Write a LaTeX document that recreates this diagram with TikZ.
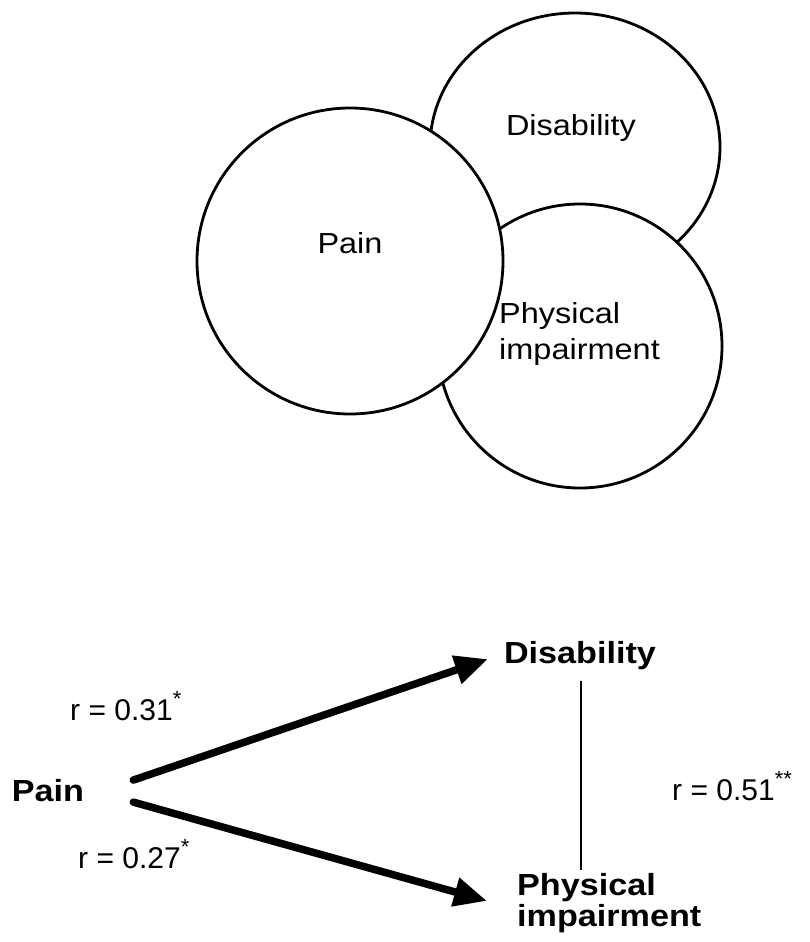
\documentclass[tikz,border=0pt]{standalone}
\usepackage{fontspec}
\setmainfont{Liberation Sans}
\newfontfamily\lblfont[FakeStretch=1.12]{Liberation Sans}
\usetikzlibrary{arrows.meta,shapes.geometric}
% small raised significance stars
\newcommand\sigstar[1]{\raisebox{0.45em}{\fontsize{22}{22}\selectfont #1}}

\begin{document}
\begin{tikzpicture}[x=1pt,y=-1pt,
  set/.style={draw, line width=2.8pt, fill=white, inner sep=0pt},
  setlabel/.style={font=\lblfont\fontsize{29}{35}\selectfont, inner sep=0pt},
  varlabel/.style={font=\lblfont\bfseries\fontsize{30.5}{31}\selectfont, inner sep=0pt},
  coef/.style={font=\fontsize{30}{36}\selectfont, inner sep=0pt, anchor=base west},
  effect/.style={line width=7.5pt, line cap=round, -{Triangle[length=33pt,width=28pt]}},
  assoc/.style={line width=2.4pt}]

\useasboundingbox (0,0) rectangle (809,942);
\fill[white] (0,0) rectangle (809,942);

% ---- overlapping sets (back to front) ----
\node[set, ellipse, minimum width=290pt, minimum height=268pt] (disC) at (575,147) {};
\node[set, circle, minimum size=284pt] (phyC) at (580,346) {};
\node[set, circle, minimum size=306pt] (painC) at (350,261) {};

\node[setlabel, anchor=base] (painL) at (350,253) {Pain};
\node[setlabel, anchor=base] (disL) at (571,135) {Disability};
\node[setlabel, anchor=base west] (phyL1) at (499,323) {Physical};
\node[setlabel, anchor=base west] (phyL2) at (499,359) {impairment};

% ---- path diagram ----
\node[varlabel, anchor=base] (pain) at (48,801) {Pain};
\node[varlabel, anchor=base] (dis) at (580,663) {Disability};
\node[varlabel, anchor=north west, align=left] (phy) at (517,873) {Physical\\impairment};

\draw[effect] ([shift={(49,-10)}]pain.east) -- ([shift={(-16,4)}]dis.west);
\draw[effect] ([shift={(49,12)}]pain.east) -- ([shift={(-30,-2)}]phy.west);
\draw[assoc] ([shift={(1,11)}]dis.south) -- ([shift={(1,-3)}]dis.south |- phy.north);

\node[coef] (r1) at (70,720) {r = 0.31\sigstar{*}};
\node[coef] (r2) at (78,868) {r = 0.27\sigstar{*}};
\node[coef] (r3) at (672,800) {r = 0.51\sigstar{**}};
\end{tikzpicture}
\end{document}
